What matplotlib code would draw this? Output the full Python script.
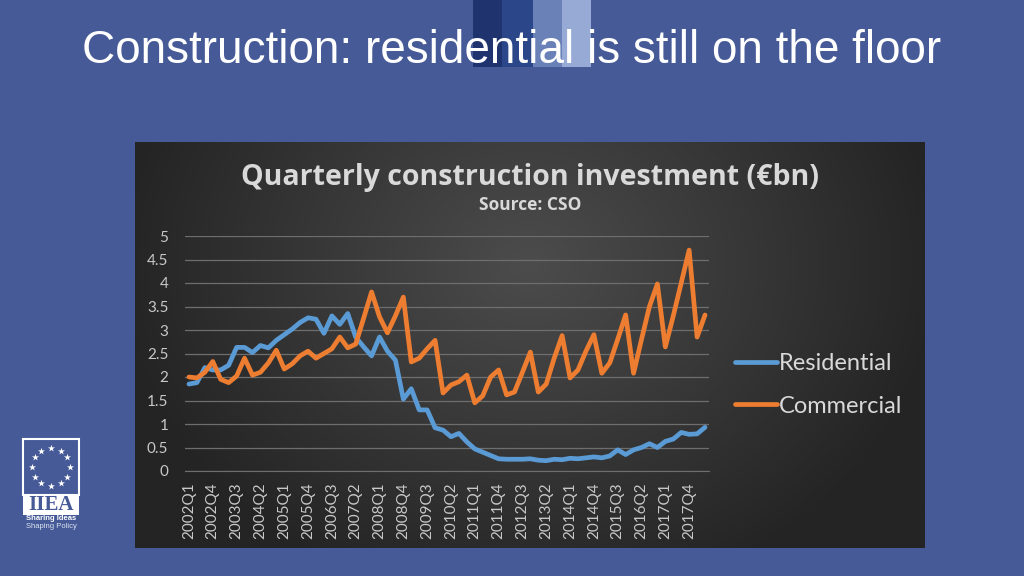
import numpy as np
import matplotlib
matplotlib.use("Agg")
import matplotlib.pyplot as plt
from matplotlib.patches import Rectangle

# ---------------- data ----------------
quarters = ["2002Q1","2002Q2","2002Q3","2002Q4","2003Q1","2003Q2","2003Q3","2003Q4",
            "2004Q1","2004Q2","2004Q3","2004Q4","2005Q1","2005Q2","2005Q3","2005Q4",
            "2006Q1","2006Q2","2006Q3","2006Q4","2007Q1","2007Q2","2007Q3","2007Q4",
            "2008Q1","2008Q2","2008Q3","2008Q4","2009Q1","2009Q2","2009Q3","2009Q4",
            "2010Q1","2010Q2","2010Q3","2010Q4","2011Q1","2011Q2","2011Q3","2011Q4",
            "2012Q1","2012Q2","2012Q3","2012Q4","2013Q1","2013Q2","2013Q3","2013Q4",
            "2014Q1","2014Q2","2014Q3","2014Q4","2015Q1","2015Q2","2015Q3","2015Q4",
            "2016Q1","2016Q2","2016Q3","2016Q4","2017Q1","2017Q2","2017Q3","2017Q4",
            "2018Q1","2018Q2"]

residential = [1.85, 1.88, 2.2, 2.15, 2.15, 2.25, 2.63, 2.63, 2.52, 2.67,
               2.62, 2.78, 2.9, 3.02, 3.16, 3.26, 3.23, 2.93, 3.3, 3.12,
               3.35, 2.85, 2.64, 2.45, 2.85, 2.55, 2.36, 1.53, 1.75, 1.3,
               1.3, 0.92, 0.87, 0.73, 0.8, 0.62, 0.47, 0.4, 0.33, 0.26,
               0.25, 0.25, 0.25, 0.26, 0.23, 0.22, 0.25, 0.24, 0.27, 0.26,
               0.28, 0.3, 0.28, 0.32, 0.45, 0.35, 0.45, 0.5, 0.58, 0.5,
               0.63, 0.68, 0.82, 0.78, 0.79, 0.93]

commercial = [2.0, 1.98, 2.1, 2.33, 1.95, 1.88, 2.02, 2.4, 2.04, 2.1,
              2.3, 2.57, 2.17, 2.28, 2.45, 2.55, 2.4, 2.5, 2.6, 2.85,
              2.62, 2.7, 3.25, 3.81, 3.28, 2.94, 3.3, 3.7, 2.32, 2.4,
              2.6, 2.78, 1.66, 1.83, 1.9, 2.04, 1.45, 1.6, 2.0, 2.15,
              1.62, 1.68, 2.1, 2.53, 1.68, 1.85, 2.4, 2.88, 1.98, 2.15,
              2.55, 2.9, 2.08, 2.3, 2.8, 3.32, 2.08, 2.8, 3.5, 3.98,
              2.64, 3.3, 4.0, 4.7, 2.85, 3.32]

yticks = [0, 0.5, 1, 1.5, 2, 2.5, 3, 3.5, 4, 4.5, 5]
ytick_labels = ["0", "0.5", "1", "1.5", "2", "2.5", "3", "3.5", "4", "4.5", "5"]

chart_title = "Quarterly construction investment (€bn)"
chart_source = "Source: CSO"
slide_title = "Construction: residential is still on the floor"

# ---------------- figure ----------------
W, H = 1024, 576
SLIDE = "#465A98"
fig = plt.figure(figsize=(W / 100, H / 100), dpi=100, facecolor=SLIDE)

def fx(px):
    return px / W

def fy(py):
    return 1 - py / H

# decorative bars at top
bar_cols = ["#1F336E", "#2C4789", "#6A81B8", "#97AAD5"]
bar_x = [473, 502, 533, 562, 591]
for i, c in enumerate(bar_cols):
    fig.add_artist(Rectangle((fx(bar_x[i]), fy(67)), fx(bar_x[i + 1] - bar_x[i]), 67 / H,
                             transform=fig.transFigure, facecolor=c, edgecolor="none", zorder=1))

fig.text(fx(512), fy(51), slide_title, ha="center", va="center", color="white",
         fontsize=33, family=["Liberation Sans", "DejaVu Sans"], zorder=5)

# dark gradient panel
px0, py0, px1, py1 = 135, 142, 925, 548
bg = fig.add_axes([fx(px0), fy(py1), fx(px1 - px0), (py1 - py0) / H], zorder=0)
gh, gw = 200, 400
yy, xx = np.mgrid[0:gh, 0:gw]
xn = xx / (gw - 1)
yn = yy / (gh - 1)
d = np.sqrt(((xn - 0.5) / 0.55) ** 2 + ((yn - 0.3) / 0.9) ** 2)
val = np.clip(76 - 42 * d, 36, 80) / 255.0
img = np.dstack([val, val, val])
bg.imshow(img, aspect="auto", extent=[0, 1, 0, 1], origin="upper")
bg.set_axis_off()

fig.text(fx(530), fy(178), chart_title, ha="center", va="center", color="#D9D9D9",
         fontsize=20.5, fontweight="bold", family=["Open Sans", "DejaVu Sans"], zorder=5)
fig.text(fx(530), fy(205), chart_source, ha="center", va="center", color="#D9D9D9",
         fontsize=12.5, fontweight="bold", family=["Open Sans", "DejaVu Sans"], zorder=5)

# main axes
ax = fig.add_axes([fx(185), fy(471), fx(709 - 185), (471 - 236) / H], zorder=2)
ax.patch.set_alpha(0)
x = np.arange(len(quarters))
ax.plot(x, residential, color="#5B9BD5", lw=3.4, solid_joinstyle="round",
        solid_capstyle="round", label="Residential", zorder=3)
ax.plot(x, commercial, color="#ED7D31", lw=3.4, solid_joinstyle="round",
        solid_capstyle="round", label="Commercial", zorder=3)
ax.set_xlim(-0.5, len(quarters) - 0.5)
ax.set_ylim(0, 5)
ax.set_yticks(yticks)
ax.set_yticklabels(ytick_labels)
ax.set_xticks(x[::3])
ax.set_xticklabels(quarters[::3], rotation=90)
ax.grid(axis="y", color="#6E6E6E", lw=0.9)
ax.set_axisbelow(True)
for s in ["top", "right", "left"]:
    ax.spines[s].set_visible(False)
ax.spines["bottom"].set_color("#6E6E6E")
ax.tick_params(axis="both", length=0, colors="#BFBFBF", labelsize=11)
ax.tick_params(axis="y", pad=12)
ax.tick_params(axis="x", pad=8)
for lab in ax.get_xticklabels() + ax.get_yticklabels():
    lab.set_family(["Lato", "DejaVu Sans"])
    lab.set_color("#C8C8C8")

leg = ax.legend(loc="center left", bbox_to_anchor=(fx(735), fy(385)),
                bbox_transform=fig.transFigure, frameon=False,
                handlelength=1.78, handletextpad=0.08, labelspacing=0.9,
                borderpad=0, borderaxespad=0,
                prop={"family": ["Lato", "DejaVu Sans"], "size": 17})
for t in leg.get_texts():
    t.set_color("#D9D9D9")
for h in leg.get_lines():
    h.set_linewidth(3.4)

# IIEA logo
lx0, ly0, lx1, ly1 = 23, 439, 79, 495
fig.add_artist(Rectangle((fx(lx0), fy(ly1)), fx(lx1 - lx0), (ly1 - ly0) / H,
                         transform=fig.transFigure, facecolor="none", edgecolor="white",
                         lw=1.5, zorder=3))
lg = fig.add_axes([fx(lx0), fy(ly1), fx(lx1 - lx0), (ly1 - ly0) / H], zorder=3)
lg.set_xlim(-1, 1)
lg.set_ylim(-1, 1)
lg.set_axis_off()
ang = np.linspace(0, 2 * np.pi, 13)[:-1]
lg.scatter(0.68 * np.cos(ang), 0.68 * np.sin(ang), marker="*", s=28, color="white", lw=0)
fig.add_artist(Rectangle((fx(lx0), fy(515)), fx(lx1 - lx0), 20 / H,
                         transform=fig.transFigure, facecolor="white", edgecolor="none",
                         zorder=3))
fig.text(fx(51), fy(505), "IIEA", ha="center", va="center", color=SLIDE, fontsize=15,
         fontweight="bold", family=["Liberation Serif", "DejaVu Serif"], zorder=4)
fig.text(fx(51), fy(519), "Sharing Ideas", ha="center", va="center", color="white",
         fontsize=5.5, fontweight="bold", family=["Liberation Sans", "DejaVu Sans"], zorder=4)
fig.text(fx(51), fy(527), "Shaping Policy", ha="center", va="center", color="#DDE3F0",
         fontsize=5.5, family=["Liberation Sans", "DejaVu Sans"], zorder=4)

fig.savefig("out.png", dpi=100, facecolor=SLIDE)
